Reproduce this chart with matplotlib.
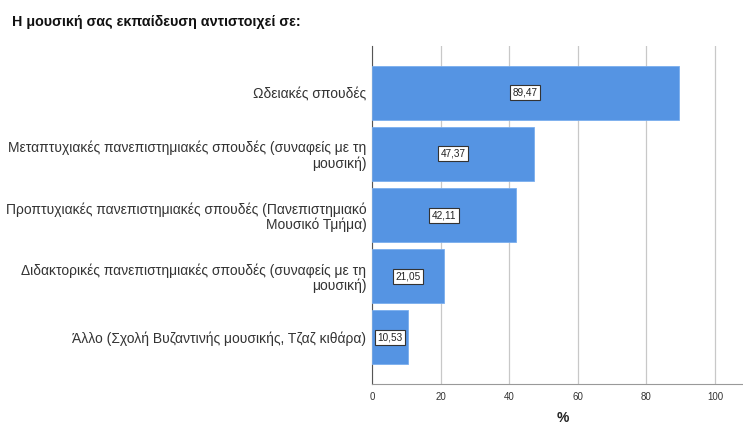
import matplotlib.pyplot as plt

categories = [
    "Ωδειακές σπουδές",
    "Μεταπτυχιακές πανεπιστημιακές σπουδές (συναφείς με τη\nμουσική)",
    "Προπτυχιακές πανεπιστημιακές σπουδές (Πανεπιστημιακό\nΜουσικό Τμήμα)",
    "Διδακτορικές πανεπιστημιακές σπουδές (συναφείς με τη\nμουσική)",
    "Άλλο (Σχολή Βυζαντινής μουσικής, Τζαζ κιθάρα)",
]
percentages = [89.47, 47.37, 42.11, 21.05, 10.53]
xticks = [0, 20, 40, 60, 80, 100]

plt.rcParams['font.family'] = ['Liberation Sans', 'DejaVu Sans']

fig = plt.figure(figsize=(7.43, 4.26), dpi=100)
ax = fig.add_axes([0.5007, 0.0986, 0.4993, 0.7934])

y = list(range(len(categories)))
ax.barh(y, percentages, height=0.9, color="#5594e3", edgecolor="#7aaeee", linewidth=0.6, zorder=3)

for yi, v in zip(y, percentages):
    ax.text(v / 2, yi, f"{v:.2f}".replace(".", ","), ha="center", va="center",
            fontsize=7.2, color="#222222", zorder=4,
            bbox=dict(boxstyle="square,pad=0.25", facecolor="white", edgecolor="#333333", linewidth=0.8))

ax.set_yticks(y)
ax.set_yticklabels(categories, fontsize=10, color="#333333", linespacing=1.05)
ax.set_ylim(len(categories) - 1 + 0.77, -0.77)
ax.set_xlim(0, 108.2)
ax.set_xticks(xticks)
ax.set_xticklabels([str(t) for t in xticks], fontsize=7, color="#333333")
ax.tick_params(axis="y", length=0, pad=4)
ax.tick_params(axis="x", length=0, pad=6)

ax.grid(axis="x", color="#c8c8c8", linewidth=0.9, zorder=0)
ax.spines["top"].set_visible(False)
ax.spines["right"].set_visible(False)
ax.spines["left"].set_color("#555555")
ax.spines["bottom"].set_color("#999999")

fig.text(12 / 743, 1 - 22 / 426, "Η μουσική σας εκπαίδευση αντιστοιχεί σε:",
         fontsize=10.3, fontweight="bold", ha="left", va="center", color="#111111")
fig.text(563 / 743, 1 - 418 / 426, "%", fontsize=10, fontweight="bold",
         ha="center", va="center", color="#222222")

fig.savefig("out.png", dpi=100)
plt.close()
